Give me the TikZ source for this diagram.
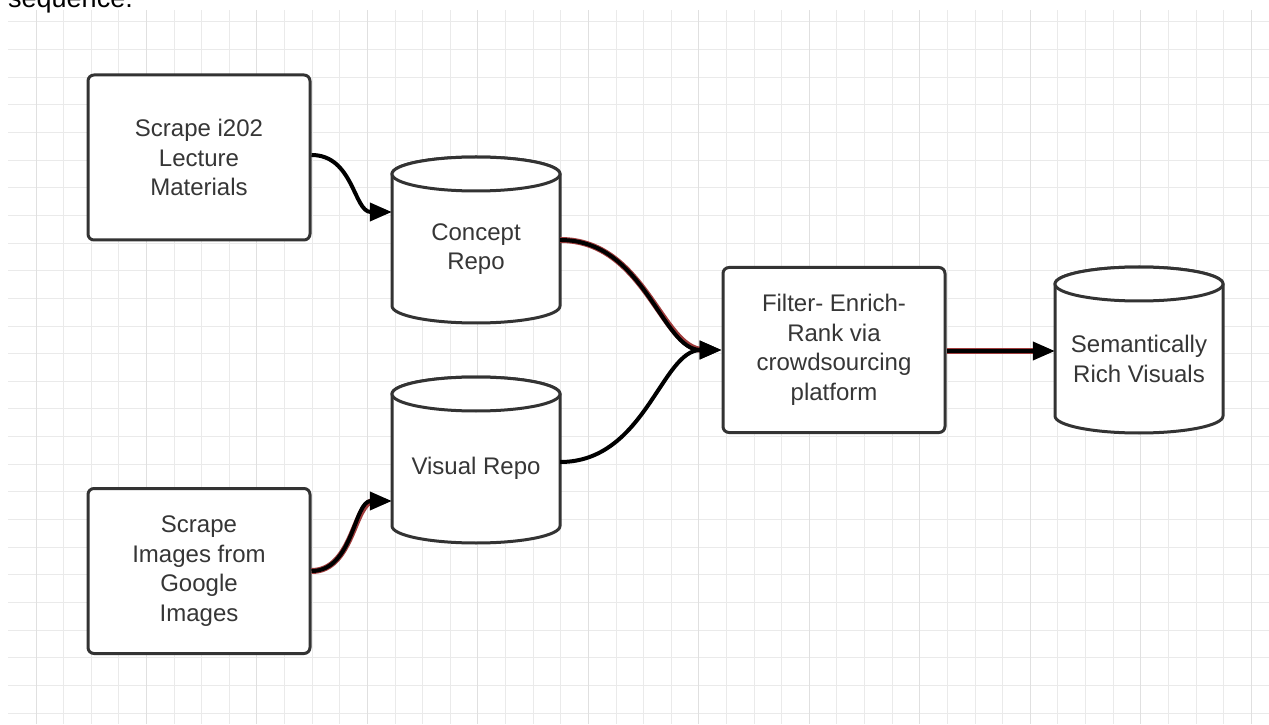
\documentclass[tikz,border=0pt]{standalone}
\usepackage{fontspec}
\setmainfont{Liberation Sans}
\usetikzlibrary{arrows.meta,calc}
\definecolor{gridminor}{HTML}{EAEAEA}
\definecolor{gridmajor}{HTML}{E0E0E0}
\definecolor{shapeline}{HTML}{333333}
\definecolor{txt}{HTML}{363636}
\definecolor{redglow}{HTML}{A03C3C}
\newcommand{\dbcyl}[3]{%
  \filldraw[cyl] ({#1-84},#2) -- ({#1-84},#3)
    arc[start angle=180,end angle=360,x radius=84,y radius=17]
    -- ({#1+84},#2)
    arc[start angle=0,end angle=180,x radius=84,y radius=17] -- cycle;
  \draw[cyl] (#1,#2) ellipse[x radius=84,y radius=17];}
\begin{document}
\begin{tikzpicture}[x=1pt,y=1pt,
  box/.style={draw=shapeline, line width=3pt, rounded corners=6pt, fill=white,
    minimum width=222pt, minimum height=165pt, inner sep=0pt, align=center,
    font=\fontsize{24}{29.5}\selectfont, text=txt},
  dblabel/.style={minimum width=168pt, minimum height=120pt, inner sep=0pt,
    align=center, font=\fontsize{24}{29.5}\selectfont, text=txt},
  cyl/.style={draw=shapeline, line width=3pt, fill=white},
  conn/.style={line width=4pt, black, -{Triangle[length=22pt,width=18pt]}},
  redconn/.style={conn, preaction={draw=redglow, line width=6pt, -, shorten >=18pt}},
  gminor/.style={draw=gridminor, line width=1pt},
  gmajor/.style={draw=gridmajor, line width=1pt}]

\useasboundingbox (0,0) rectangle (1269,724);
\fill[white] (0,0) rectangle (1269,724);

% grid
\foreach \j in {0,...,26} {\draw[gminor] (8.4,{702-27.64*\j}) -- (1269,{702-27.64*\j});}
\foreach \i in {0,...,44} {\draw[gminor] ({36+27.62*\i},0) -- ({36+27.62*\i},714);}
\foreach \i in {0,4,...,44} {\draw[gmajor] ({36+27.62*\i},0) -- ({36+27.62*\i},714);}

% cut-off heading text
\node[anchor=base west, inner sep=0pt, font=\fontsize{27}{30}\selectfont] (seq) at (8,716) {sequence.};

% boxes
\node[box] (scrape1) at (199,566.5) {Scrape i202\\Lecture\\Materials};
\node[box] (scrape2) at (199,153) {Scrape\\Images from\\Google\\Images};
\node[box] (filter) at (834,374) {Filter- Enrich-\\Rank via\\crowdsourcing\\platform};

% cylinders
\dbcyl{476}{550}{418}
\node[dblabel] (concept) at (476,475) {Concept\\Repo};
\dbcyl{476}{330}{198}
\node[dblabel] (visual) at (476,256) {Visual Repo};
\dbcyl{1139}{440}{308}
\node[dblabel] (rich) at (1139,365) {Semantically\\Rich Visuals};

% connectors
\draw[conn] ($(scrape1.east)+(0,2.5)$) .. controls +(42,0) and +(-38,0) .. ($(concept.west)+(0,37)$);
\draw[redconn] (scrape2.east) .. controls +(42,0) and +(-38,0) .. ($(visual.west)+(0,-33)$);
\draw[redconn] ($(concept.east)+(0,9)$) .. controls +(85,0) and +(-60,0) .. (filter.west);
\draw[conn] ($(visual.east)+(0,6)$) .. controls +(85,0) and +(-60,0) .. (filter.west);
\draw[redconn] ($(filter.east)+(0,-1)$) -- ($(rich.west)+(0,8)$);
\end{tikzpicture}
\end{document}
